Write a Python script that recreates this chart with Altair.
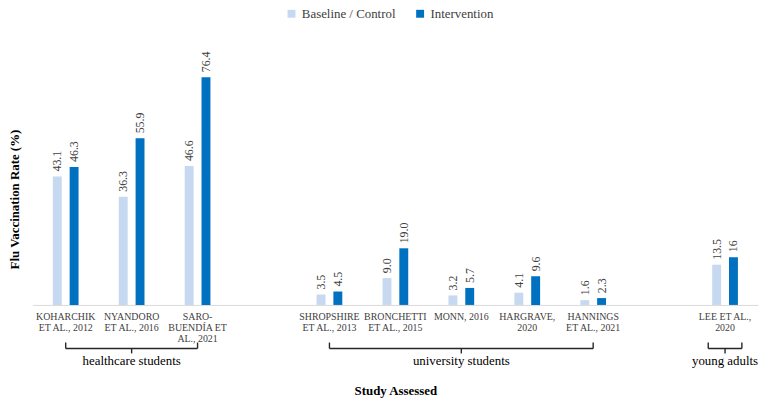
import altair as alt
import pandas as pd

# ---- data ----
studies = [
    "KOHARCHIK|ET AL., 2012",
    "NYANDORO|ET AL., 2016",
    "SARO-|BUENDÍA ET|AL., 2021",
    "gap1",
    "SHROPSHIRE|ET AL., 2013",
    "BRONCHETTI|ET AL., 2015",
    "MONN, 2016",
    "HARGRAVE,|2020",
    "HANNINGS|ET AL., 2021",
    "gap2",
    "LEE ET AL.,|2020",
]
baseline = [43.1, 36.3, 46.6, None, 3.5, 9.0, 3.2, 4.1, 1.6, None, 13.5]
intervention = [46.3, 55.9, 76.4, None, 4.5, 19.0, 5.7, 9.6, 2.3, None, 16]
baseline_labels = ["43.1", "36.3", "46.6", "", "3.5", "9.0", "3.2", "4.1", "1.6", "", "13.5"]
intervention_labels = ["46.3", "55.9", "76.4", "", "4.5", "19.0", "5.7", "9.6", "2.3", "", "16"]
series = ["Baseline / Control", "Intervention"]
colors = ["#C6D9F0", "#0070C0"]

groups = ["healthcare students", "university students", "young adults"]
group_start = [studies[0], studies[4], studies[10]]
group_end = [studies[2], studies[8], studies[10]]
group_mid = [studies[1], studies[6], studies[10]]

rows = []
for i, s in enumerate(studies):
    if baseline[i] is not None:
        rows.append({"study": s, "series": series[0], "value": baseline[i], "label": baseline_labels[i]})
        rows.append({"study": s, "series": series[1], "value": intervention[i], "label": intervention_labels[i]})
df = pd.DataFrame(rows)
gdf = pd.DataFrame({"group": groups, "start": group_start, "end": group_end, "mid": group_mid})

FONT = "Liberation Serif"
W, H = 733, 241

xscale = alt.Scale(domain=studies, paddingInner=0.61, paddingOuter=0.305)
off_scale = alt.Scale(domain=series, paddingInner=0.47, paddingOuter=0)

x_axis = alt.Axis(
    labelExpr="indexof(datum.value, 'gap') == 0 ? '' : split(datum.value, '|')",
    labelAngle=0,
    labelFont=FONT,
    labelFontSize=10,
    labelColor="#404040",
    labelLineHeight=11,
    labelBaseline="top",
    labelPadding=7,
    labelOverlap=False,
    labelBound=False,
    labelFlush=False,
    ticks=False,
    grid=False,
    domainColor="#D9D9D9",
    domainWidth=1,
    titleFont=FONT,
    titleFontSize=13,
    titleFontWeight="bold",
    titleColor="#000000",
    titleY=87,
    titleBaseline="middle",
)

def xs(field):
    return alt.X(f"{field}:N", scale=xscale, sort=studies, axis=x_axis, title="Study Assessed")

y_main = alt.Y(
    "value:Q",
    scale=alt.Scale(domain=[0, 80]),
    axis=alt.Axis(
        labels=False, ticks=False, grid=False, domain=False,
        title="Flu Vaccination Rate (%)",
        titleFont=FONT, titleFontSize=13, titleFontWeight="bold", titleColor="#000000",
        titleX=-18, titleY=134, titleAlign="center", titleBaseline="middle", titleAngle=270,
    ),
)

bars = alt.Chart(df).mark_bar().encode(
    x=xs("study"),
    xOffset=alt.XOffset("series:N", scale=off_scale, sort=series),
    y=y_main,
    color=alt.Color(
        "series:N",
        scale=alt.Scale(domain=series, range=colors),
        legend=alt.Legend(
            orient="none", legendX=255, legendY=-60, direction="horizontal",
            title=None, symbolType="square", symbolSize=64, symbolStrokeWidth=0,
            labelFont=FONT, labelFontSize=13, labelColor="#404040", columnPadding=18,
        ),
    ),
)

labels = alt.Chart(df).mark_text(
    angle=270, align="left", baseline="middle", dx=5,
    font=FONT, fontSize=12, color="#404040",
).encode(
    x=xs("study"),
    xOffset=alt.XOffset("series:N", scale=off_scale, sort=series),
    y=alt.Y("value:Q"),
    text="label:N",
)

BR = "#262626"
wide = alt.Chart(gdf).transform_filter(alt.datum.start != alt.datum.end)
narrow = alt.Chart(gdf).transform_filter(alt.datum.start == alt.datum.end)

w_h = wide.mark_rule(color=BR, strokeWidth=1.4).encode(x=xs("start"), x2="end:N", y=alt.value(285))
w_l = wide.mark_rule(color=BR, strokeWidth=1.4).encode(x=xs("start"), y=alt.value(279), y2=alt.value(285))
w_r = wide.mark_rule(color=BR, strokeWidth=1.4).encode(x=xs("end"), y=alt.value(279), y2=alt.value(285))

n_h = narrow.mark_rule(color=BR, strokeWidth=1.4, xOffset=-17, x2Offset=17).encode(
    x=xs("start"), x2="end:N", y=alt.value(285))
n_l = narrow.mark_rule(color=BR, strokeWidth=1.4, xOffset=-17).encode(
    x=xs("start"), y=alt.value(279), y2=alt.value(285))
n_r = narrow.mark_rule(color=BR, strokeWidth=1.4, xOffset=17).encode(
    x=xs("end"), y=alt.value(279), y2=alt.value(285))

mid_tick = alt.Chart(gdf).mark_rule(color=BR, strokeWidth=1.4).encode(
    x=xs("mid"), y=alt.value(285), y2=alt.value(290))
glabel = alt.Chart(gdf).mark_text(
    font=FONT, fontSize=13, color="#000000", baseline="middle", align="center"
).encode(x=xs("mid"), y=alt.value(298), text="group:N")

chart = alt.layer(
    bars, labels, w_h, w_l, w_r, n_h, n_l, n_r, mid_tick, glabel
).properties(
    width=W, height=H,
    background="white",
    autosize=alt.AutoSizeParams(type="none"),
    padding={"left": 25, "top": 57, "right": 2, "bottom": 95},
).configure_view(stroke=None, strokeWidth=0)

chart.save("out.html", embed_options={"renderer": "svg", "actions": False})
